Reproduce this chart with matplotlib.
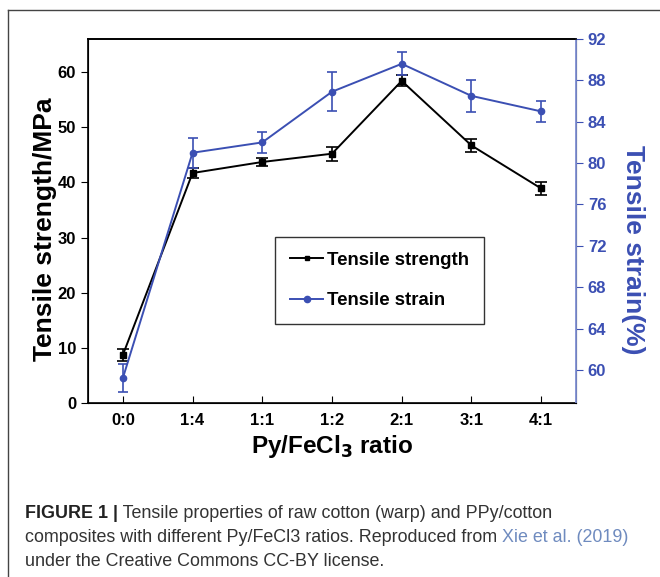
import matplotlib.pyplot as plt
from matplotlib.lines import Line2D

plt.rcParams['font.family'] = ['Liberation Sans', 'DejaVu Sans']

ratios = ["0:0", "1:4", "1:1", "1:2", "2:1", "3:1", "4:1"]
strength = [8.7, 41.7, 43.7, 45.2, 58.4, 46.7, 38.9]
strength_err = [1.0, 0.9, 0.8, 1.3, 1.0, 1.2, 1.2]
strain = [59.2, 81.0, 82.0, 86.9, 89.6, 86.5, 85.0]
strain_err = [1.35, 1.45, 1.0, 1.9, 1.1, 1.55, 1.0]

blue = "#3b4fb3"
x = list(range(len(ratios)))

fig = plt.figure(figsize=(6.6, 5.77), dpi=100)
ax = fig.add_axes([0.1333, 0.3016, 0.7394, 0.6308])
ax2 = ax.twinx()

ax2.errorbar(x, strain, yerr=strain_err, color=blue, marker="o", ms=4.5,
             lw=1.4, capsize=3.5, elinewidth=1.2, capthick=1.2)
ax.errorbar(x, strength, yerr=strength_err, color="black", marker="s", ms=4.5,
            lw=1.4, capsize=4.5, elinewidth=1.2, capthick=1.2, zorder=5)

ax.set_xlim(-0.5, 6.5)
ax.set_ylim(0, 66)
ax2.set_ylim(56.8, 92)
ax.set_xticks(x)
ax.set_xticklabels(ratios)
ax.set_yticks(range(0, 61, 10))
ax2.set_yticks(range(60, 93, 4))

ax.tick_params(axis="x", direction="in", length=5, labelsize=12, pad=7)
ax.tick_params(axis="y", direction="out", length=5, labelsize=12)
ax2.tick_params(axis="y", direction="out", length=5, labelsize=12,
                colors=blue)
for lab in ax.get_xticklabels() + ax.get_yticklabels():
    lab.set_fontweight("bold")
for lab in ax2.get_yticklabels():
    lab.set_fontweight("bold")

for s in ["top", "left", "bottom"]:
    ax.spines[s].set_linewidth(1.2)
ax2.spines["top"].set_linewidth(1.2)
ax2.spines["right"].set_color("#7f8fd4")
ax2.spines["right"].set_linewidth(1.3)

ax.set_ylabel("Tensile strength/MPa", fontsize=19, fontweight="bold",
              va="center")
ax.yaxis.set_label_coords(-0.088, 0.478)
ax2.set_ylabel("Tensile strain(%)", fontsize=19, fontweight="bold",
               color=blue, rotation=270, va="center")
ax2.yaxis.set_label_coords(1.117, 0.42)
ax.set_xlabel("Py/FeCl$_\\mathbf{3}$ ratio", fontsize=17.5, fontweight="bold",
              labelpad=4)

handles = [Line2D([], [], color="black", marker="s", ms=3.5, lw=1.4),
           Line2D([], [], color=blue, marker="o", ms=4.5, lw=1.4)]
leg = ax2.legend(handles, ["Tensile strength", "Tensile strain"],
                 loc="upper left", bbox_to_anchor=(0.383, 0.456),
                 prop={"size": 13.4, "weight": "bold"}, frameon=True,
                 fancybox=False, edgecolor="black", handlelength=1.8,
                 handletextpad=0.2, labelspacing=1.25, borderpad=0.8,
                 borderaxespad=0)
leg.get_frame().set_linewidth(1.0)

# outer frame lines
fig.add_artist(Line2D([8 / 660, 1], [1 - 10 / 577, 1 - 10 / 577],
                      transform=fig.transFigure, color="#444444", lw=1))
fig.add_artist(Line2D([8 / 660, 8 / 660], [0, 1 - 10 / 577],
                      transform=fig.transFigure, color="#444444", lw=1))

# caption
cap = "#333333"
fs = 12.9
t1 = fig.text(25 / 660, 1 - 518 / 577, "FIGURE 1 |", fontsize=fs,
              fontweight="bold", color="#222222", va="baseline")
fig.canvas.draw()
ax.annotate(" Tensile properties of raw cotton (warp) and PPy/cotton",
            xy=(1, 0), xycoords=t1, va="bottom", fontsize=fs, color=cap,
            annotation_clip=False)
t2 = fig.text(25 / 660, 1 - 542 / 577,
              "composites with different Py/FeCl3 ratios. Reproduced from ",
              fontsize=fs, color=cap, va="baseline")
ax.annotate("Xie et al. (2019)", xy=(1, 0), xycoords=t2, va="bottom",
            fontsize=fs, color="#6f8bbf", annotation_clip=False)
fig.text(25 / 660, 1 - 566 / 577, "under the Creative Commons CC-BY license.",
         fontsize=fs, color=cap, va="baseline")

fig.savefig("out.png", dpi=100)
